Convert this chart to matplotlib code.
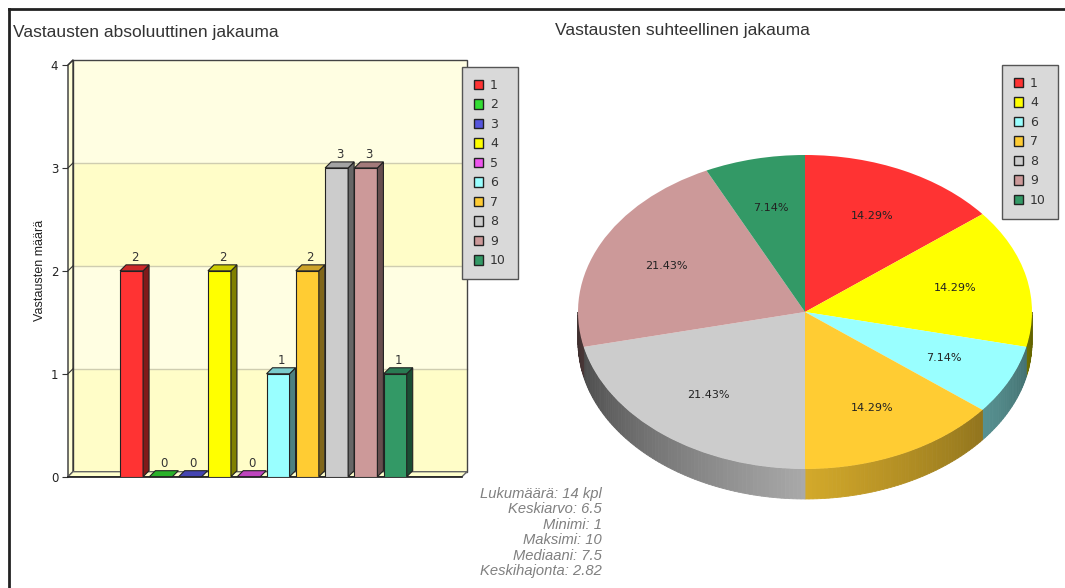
import numpy as np
import matplotlib
matplotlib.use("Agg")
import matplotlib.pyplot as plt
from matplotlib.patches import Polygon, Rectangle, Patch
from matplotlib.lines import Line2D
import matplotlib.colors as mcolors

plt.rcParams['font.family'] = ['Liberation Sans', 'DejaVu Sans']

W, H = 1065, 588

# data
answers = ['1', '2', '3', '4', '5', '6', '7', '8', '9', '10']
counts = [2, 0, 0, 2, 0, 1, 2, 3, 3, 1]
colors = ['#ff3333', '#33dd33', '#5555dd', '#ffff00', '#ee55ee',
          '#99ffff', '#ffcc33', '#cccccc', '#cc9999', '#339966']
stats = ['Lukumäärä: 14 kpl', 'Keskiarvo: 6.5', 'Minimi: 1',
         'Maksimi: 10', 'Mediaani: 7.5', 'Keskihajonta: 2.82']

pie_labels = [a for a, c in zip(answers, counts) if c > 0]
pie_counts = [c for c in counts if c > 0]
pie_colors = [col for col, c in zip(colors, counts) if c > 0]


def frac(x0, y0, x1, y1):
    # pixel box (top-left origin) -> figure fraction
    return [x0 / W, 1 - y1 / H, (x1 - x0) / W, (y1 - y0) / H]


def shade(col, f):
    r, g, b = mcolors.to_rgb(col)
    return (r * f, g * f, b * f)


fig = plt.figure(figsize=(W / 100, H / 100), dpi=100)
fig.patch.set_facecolor('white')

# outer frame
fig.add_artist(Line2D([9 / W, 1], [1 - 9 / H, 1 - 9 / H], color='#222222', lw=2,
                      transform=fig.transFigure))
fig.add_artist(Line2D([9 / W, 9 / W], [0, 1 - 9 / H], color='#222222', lw=2,
                      transform=fig.transFigure))

fig.text(13 / W, 1 - 32 / H, 'Vastausten absoluuttinen jakauma', fontsize=12.5,
         va='center', color='#333333')
fig.text(555 / W, 1 - 31 / H, 'Vastausten suhteellinen jakauma', fontsize=12.5,
         va='center', color='#333333')

# ---------------- bar chart ----------------
ax = fig.add_axes(frac(68, 65, 462, 476.7))
x0, x1 = -1.17, 12.28
ax.set_xlim(x0, x1)
ax.set_ylim(0, 4)
ux = (x1 - x0) / 394.0
uy = 4 / 411.7
wdx, wdy = 5 * ux, 5 * uy
bdx, bdy = 6 * ux, 6 * uy
bw = 23 * ux

for s in ax.spines.values():
    s.set_visible(False)
ax.set_xticks([])
ax.set_yticks([0, 1, 2, 3, 4])
ax.tick_params(axis='y', length=4, width=0.8, color='#333333', labelsize=8.5,
               labelcolor='#222222', pad=3)
for lab in ax.get_yticklabels():
    lab.set_family('DejaVu Sans')
fig.text(40 / W, 1 - 270 / H, 'Vastausten määrä', rotation=90, fontsize=9,
         ha='center', va='center', color='#222222')

# back wall bands
band_cols = ['#fffdc8', '#fffee2', '#fffdc8', '#fffee2']
for k in range(4):
    ax.add_patch(Rectangle((x0 + wdx, k + wdy), x1 - x0, 1, facecolor=band_cols[k],
                           edgecolor='none', clip_on=False, zorder=0))
for k in [1, 2, 3]:
    ax.plot([x0 + wdx, x1 + wdx], [k + wdy, k + wdy], color='#cfcdb0', lw=1,
            clip_on=False, zorder=1)
ax.add_patch(Rectangle((x0 + wdx, wdy), x1 - x0, 4, facecolor='none',
                       edgecolor='#444444', lw=1, clip_on=False, zorder=1))
# left wall and floor
ax.add_patch(Polygon([(x0, 0), (x0, 4), (x0 + wdx, 4 + wdy), (x0 + wdx, wdy)],
                     closed=True, facecolor='#fffed8', edgecolor='#333333', lw=1,
                     clip_on=False, zorder=2))
for k in range(5):
    ax.plot([x0, x0 + wdx], [k, k + wdy], color='#333333', lw=0.8, clip_on=False, zorder=2)
ax.add_patch(Polygon([(x0, 0), (x1, 0), (x1 + wdx, wdy), (x0 + wdx, wdy)],
                     closed=True, facecolor='#ffffcc', edgecolor='#666666', lw=1,
                     clip_on=False, zorder=2))
ax.plot([x0, x1], [0, 0], color='#222222', lw=1.2, clip_on=False, zorder=2)

# 3d bars
for i, (c, col) in enumerate(zip(counts, colors)):
    x = i + 1
    xl, xr = x - bw / 2, x + bw / 2
    if c > 0:
        ax.add_patch(Rectangle((xl, 0), bw, c, facecolor=col, edgecolor='#222222',
                               lw=0.8, zorder=3))
        ax.add_patch(Polygon([(xr, 0), (xr, c), (xr + bdx, c + bdy), (xr + bdx, bdy)],
                             closed=True, facecolor=shade(col, 0.5),
                             edgecolor='#222222', lw=0.8, zorder=3))
    ax.add_patch(Polygon([(xl, c), (xr, c), (xr + bdx, c + bdy), (xl + bdx, c + bdy)],
                         closed=True, facecolor=shade(col, 0.8),
                         edgecolor='#222222', lw=0.8, zorder=3, clip_on=False))
    ax.text(x + bdx / 2, c + bdy + 0.005, str(c), ha='center', va='bottom',
            fontsize=8.5, color='#333333', family='DejaVu Sans', zorder=4)

leg_kw = dict(loc='upper left', frameon=True, fancybox=False,
              facecolor='#d9d9d9', edgecolor='#555555', framealpha=1,
              handlelength=0.75, handleheight=0.75, handletextpad=0.55,
              labelspacing=0.52, borderpad=0.95, borderaxespad=0,
              prop={'family': 'DejaVu Sans', 'size': 9})

bar_handles = [Patch(facecolor=col, edgecolor='#222222', label=a)
               for a, col in zip(answers, colors)]
leg1 = fig.legend(handles=bar_handles, bbox_to_anchor=(462 / W, 1 - 67 / H), **leg_kw)
for t in leg1.get_texts():
    t.set_color('#333333')

fig.text(602 / W, 1 - 487 / H, '\n'.join(stats), ha='right', va='top',
         multialignment='right', style='italic', color='#808080', fontsize=10.6,
         linespacing=1.13)

# ---------------- pie chart ----------------
pax = fig.add_axes(frac(560, 130, 1050, 520))
cx, rx, ry = 805, 227.0, 157.0
depth = 30 / ry


def side_shade(t):
    if t < 270:
        return 0.28 + 0.55 * (t - 180) / 90
    return 0.83 - 0.45 * (t - 270) / 90


total = float(sum(pie_counts))
start = 90.0
for cnt, col in zip(pie_counts, pie_colors):
    end = start - 360 * cnt / total
    for off in (-360, 0, 360):
        lo, hi = max(end + off, 180), min(start + off, 360)
        if lo < hi:
            n = max(2, int(hi - lo))
            ts = np.linspace(lo, hi, n + 1)
            for t0, t1 in zip(ts[:-1], ts[1:]):
                a0, a1 = np.radians(t0), np.radians(t1)
                fc = shade(col, side_shade((t0 + t1) / 2))
                pax.fill([np.cos(a0), np.cos(a1), np.cos(a1), np.cos(a0)],
                         [np.sin(a0), np.sin(a1), np.sin(a1) - depth, np.sin(a0) - depth],
                         facecolor=fc, edgecolor=fc, lw=0.6, zorder=1)
    start = end

wedges, texts, autotexts = pax.pie(pie_counts, colors=pie_colors, startangle=90,
                                   counterclock=False, autopct='%.2f%%',
                                   pctdistance=0.68,
                                   wedgeprops=dict(linewidth=0, zorder=2),
                                   textprops=dict(fontsize=8, color='#222222',
                                                  family='DejaVu Sans'))
for t in autotexts:
    t.set_zorder(3)
pax.set_aspect('auto')
pax.set_xlim((560 - cx) / rx, (1050 - cx) / rx)
pax.set_ylim((312 - 520) / ry, (312 - 130) / ry)
pax.axis('off')

pie_handles = [Patch(facecolor=col, edgecolor='#222222', label=a)
               for a, col in zip(pie_labels, pie_colors)]
leg2 = fig.legend(handles=pie_handles, bbox_to_anchor=(1002 / W, 1 - 65 / H), **leg_kw)
for t in leg2.get_texts():
    t.set_color('#333333')

fig.savefig('out.png', dpi=100)
